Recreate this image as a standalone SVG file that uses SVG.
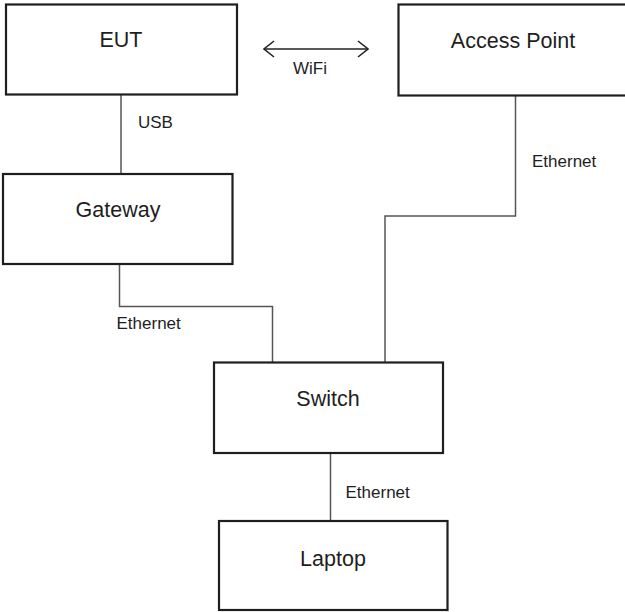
<svg xmlns="http://www.w3.org/2000/svg" width="625" height="612" viewBox="0 0 625 612">
  <defs>
    <marker id="chev" viewBox="0 0 12 18" refX="11" refY="9" markerWidth="12" markerHeight="18" markerUnits="userSpaceOnUse" orient="auto-start-reverse">
      <path d="M1,1 L11,9 L1,17" fill="none" stroke="#222" stroke-width="1.6"/>
    </marker>
  </defs>
  <style>
    .box { fill: #fff; stroke: #1e1e1e; stroke-width: 2.2; }
    .name { font-family: "Liberation Sans", Arial, sans-serif; font-size: 21.5px; fill: #1e1e1e; text-anchor: middle; }
    .lbl { font-family: "Liberation Sans", Arial, sans-serif; font-size: 17px; fill: #1e1e1e; }
    .wire { fill: none; stroke: #555; stroke-width: 1.5; }
  </style>
  <rect width="625" height="612" fill="#fff"/>

  <g id="connectors">
    <line class="wire" x1="121" y1="95" x2="121" y2="174"/>
    <polyline class="wire" points="119.5,264 119.5,306.5 272.5,306.5 272.5,362.5"/>
    <polyline class="wire" points="515.5,96 515.5,216 385,216 385,362.5"/>
    <line class="wire" x1="330.5" y1="453" x2="330.5" y2="521"/>
    <line x1="264" y1="49" x2="368" y2="49" stroke="#222" stroke-width="1.6" marker-start="url(#chev)" marker-end="url(#chev)"/>
    <text class="lbl" x="138" y="128">USB</text>
    <text class="lbl" x="293" y="74">WiFi</text>
    <text class="lbl" x="532" y="167">Ethernet</text>
    <text class="lbl" x="116.5" y="329">Ethernet</text>
    <text class="lbl" x="345.5" y="498">Ethernet</text>
  </g>

  <g id="eut">
    <rect class="box" x="6" y="4.5" width="231" height="90"/>
    <text class="name" x="121" y="47">EUT</text>
  </g>
  <g id="access-point">
    <rect class="box" x="398.5" y="4.5" width="230" height="91"/>
    <text class="name" x="513" y="48">Access Point</text>
  </g>
  <g id="gateway">
    <rect class="box" x="3" y="174" width="229.5" height="90"/>
    <text class="name" x="118" y="217">Gateway</text>
  </g>
  <g id="switch">
    <rect class="box" x="214" y="362.5" width="229" height="90.5"/>
    <text class="name" x="328" y="406">Switch</text>
  </g>
  <g id="laptop">
    <rect class="box" x="219" y="521" width="228.5" height="89"/>
    <text class="name" x="333" y="566">Laptop</text>
  </g>
</svg>
